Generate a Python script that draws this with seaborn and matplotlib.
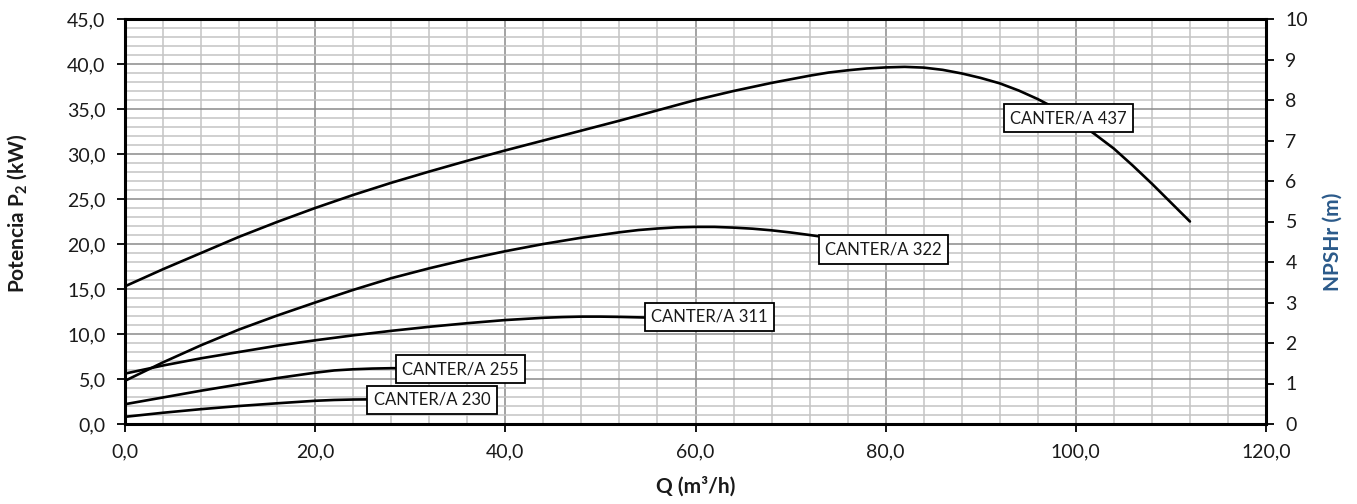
import matplotlib
matplotlib.use("Agg")
import matplotlib.pyplot as plt
import seaborn as sns
import pandas as pd
import numpy as np

# ---- data ----
q_230 = [0, 4, 8, 12, 16, 20, 22, 24, 26, 28]
p_230 = [0.8, 1.25, 1.65, 2.0, 2.3, 2.58, 2.67, 2.72, 2.74, 2.75]

q_255 = [0, 4, 8, 12, 16, 20, 22, 24, 26, 28, 31]
p_255 = [2.2, 2.95, 3.7, 4.4, 5.1, 5.7, 5.95, 6.08, 6.16, 6.2, 6.2]

q_311 = [0, 4, 8, 12, 16, 20, 24, 28, 32, 36, 40, 44, 46, 48, 50, 52, 54, 56]
p_311 = [5.6, 6.5, 7.3, 8.0, 8.7, 9.3, 9.85, 10.35, 10.8, 11.2, 11.55, 11.8, 11.88, 11.93,
         11.93, 11.9, 11.85, 11.8]

q_322 = [0, 4, 8, 12, 16, 20, 24, 28, 32, 36, 40, 44, 48, 52, 54, 56, 58, 60, 62, 64, 66,
         68, 70, 72, 74, 76]
p_322 = [4.8, 6.85, 8.75, 10.5, 12.05, 13.5, 14.9, 16.2, 17.3, 18.3, 19.2, 20.0, 20.7, 21.3,
         21.55, 21.72, 21.85, 21.9, 21.9, 21.82, 21.7, 21.52, 21.28, 21.0, 20.7, 20.4]

q_437 = [0, 4, 8, 12, 16, 20, 24, 28, 32, 36, 40, 44, 48, 52, 56, 60, 64, 68, 72, 74, 76,
         78, 80, 82, 84, 86, 88, 90, 92, 94, 96, 98, 100, 102, 104, 106, 108, 110, 112]
p_437 = [15.3, 17.2, 19.0, 20.8, 22.45, 24.0, 25.45, 26.8, 28.05, 29.25, 30.4, 31.5, 32.6,
         33.7, 34.85, 36.0, 37.0, 37.9, 38.7, 39.05, 39.3, 39.5, 39.62, 39.68, 39.6, 39.35,
         38.95, 38.45, 37.85, 37.05, 36.1, 35.0, 33.7, 32.2, 30.6, 28.7, 26.7, 24.6, 22.5]

models = ["CANTER/A 230", "CANTER/A 255", "CANTER/A 311", "CANTER/A 322", "CANTER/A 437"]
label_q = [32.3, 35.3, 61.5, 79.8, 99.2]
label_p = [2.67, 6.1, 11.9, 19.4, 34.0]

x_ticks = [0, 20, 40, 60, 80, 100, 120]
y_ticks = [0, 5, 10, 15, 20, 25, 30, 35, 40, 45]
npsh_ticks = [0, 1, 2, 3, 4, 5, 6, 7, 8, 9, 10]

frames = []
for name, q, p in zip(models, [q_230, q_255, q_311, q_322, q_437],
                      [p_230, p_255, p_311, p_322, p_437]):
    frames.append(pd.DataFrame({"Q": q, "P": p, "model": name}))
df = pd.concat(frames, ignore_index=True)

sns.set_theme(style="white")
plt.rcParams["font.family"] = ["Lato", "DejaVu Sans"]
plt.rcParams["mathtext.fontset"] = "custom"
plt.rcParams["mathtext.rm"] = "Lato"
plt.rcParams["mathtext.bf"] = "Lato:bold"

fig = plt.figure(figsize=(13.57, 5.04), dpi=100)
ax = fig.add_axes([125 / 1357, 1 - 424 / 504, (1266 - 125) / 1357, (424 - 19) / 504])

sns.lineplot(data=df, x="Q", y="P", units="model", estimator=None, color="black",
             linewidth=1.9, ax=ax, legend=False, sort=False)

ax.set_xlim(0, 120)
ax.set_ylim(0, 45)
ax.set_xticks(x_ticks)
ax.set_xticklabels([f"{v:.1f}".replace(".", ",") for v in x_ticks])
ax.set_yticks(y_ticks)
ax.set_yticklabels([f"{v:.1f}".replace(".", ",") for v in y_ticks])
ax.set_xticks(np.arange(0, 121, 4), minor=True)
ax.set_yticks(np.arange(0, 46, 1), minor=True)
ax.grid(which="minor", color="#c4c4c4", linewidth=1.1)
ax.grid(which="major", color="#8a8a8a", linewidth=1.1)
ax.set_axisbelow(True)
ax.tick_params(which="minor", length=0)
ax.tick_params(which="major", direction="out", length=6, width=1.3, color="black",
               labelsize=14, labelcolor="#1a1a1a", bottom=True, left=True, pad=8)
for s in ax.spines.values():
    s.set_color("black")
    s.set_linewidth(2.2)

ax.set_xlabel("Q (m³/h)", fontsize=15, fontweight="bold", color="#1a1a1a")
ax.xaxis.set_label_coords(0.5, -0.13)
ax.set_ylabel(r"Potencia P$_{\mathbf{2}}$ (kW)", fontsize=15, fontweight="bold",
              color="#1a1a1a")
ax.yaxis.set_label_coords(-0.083, 0.52)

for name, lq, lp in zip(models, label_q, label_p):
    ax.text(lq, lp, name, ha="center", va="center", fontsize=12, color="#1a1a1a", zorder=5,
            bbox=dict(boxstyle="square,pad=0.38", fc="white", ec="black", lw=1.3))

ax2 = ax.twinx()
ax2.set_ylim(0, 10)
ax2.set_yticks(npsh_ticks)
ax2.set_yticklabels([str(v) for v in npsh_ticks])
ax2.tick_params(direction="out", length=6, width=1.3, color="black", labelsize=14,
                labelcolor="#1a1a1a", right=True, pad=8)
ax2.grid(False)
for s in ax2.spines.values():
    s.set_visible(False)
ax2.set_ylabel("NPSHr (m)", fontsize=15, fontweight="bold", color="#2B5A8A")
ax2.yaxis.set_label_coords(1.05, 0.45)

fig.savefig("out.png", dpi=100)
